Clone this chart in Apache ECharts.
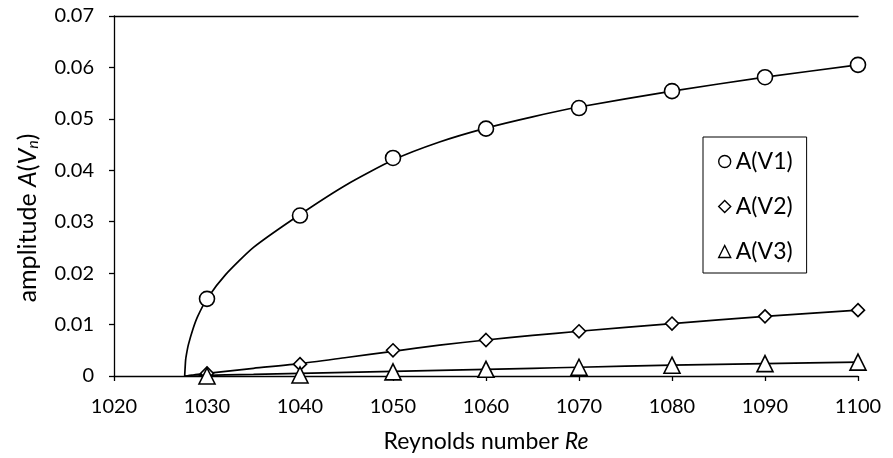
<!DOCTYPE html>
<html lang="en">
<head>
  <meta charset="UTF-8">
  <title>Amplitude vs Reynolds number</title>
</head>
<body style="margin:0;background:#fff;">
  <div id="chart" style="width: 893px; height: 458px;"></div>
</body>

<script src="https://cdn.jsdelivr.net/npm/echarts@6/dist/echarts.min.js"></script>

<script>
  // measured points
  const reValues = [1030, 1040, 1050, 1060, 1070, 1080, 1090, 1100];
  const ampV1 = [0.0150, 0.0312, 0.0424, 0.0481, 0.0521, 0.0554, 0.0581, 0.0605];
  const ampV2 = [0.0005, 0.0023, 0.0050, 0.0070, 0.0087, 0.0102, 0.0116, 0.0128];
  const ampV3 = [0.0000, 0.0002, 0.0008, 0.0013, 0.0017, 0.0021, 0.0024, 0.0027];

  // fitted curves
  const curveRe = [1027.6, 1027.7, 1027.8, 1028, 1028.5, 1029, 1030, 1032, 1035, 1040, 1045, 1050, 1055, 1060, 1065, 1070, 1080, 1090, 1100];
  const curveV1 = [0, 0.0031, 0.0043, 0.0061, 0.0092, 0.0116, 0.0150, 0.0197, 0.0250, 0.0314, 0.0372, 0.0420, 0.0455, 0.0482, 0.0504, 0.0523, 0.0554, 0.0581, 0.0605];
  const curveV2 = [0, 0, 0, 0.0001, 0.0002, 0.0003, 0.0005, 0.0009, 0.0015, 0.0024, 0.0036, 0.0048, 0.0060, 0.0070, 0.0079, 0.0087, 0.0102, 0.0116, 0.0128];
  const curveV3 = [0, 0, 0, 0, 0, 0, 0.0001, 0.0002, 0.0003, 0.0005, 0.0007, 0.0009, 0.0011, 0.0013, 0.0015, 0.0017, 0.0021, 0.0024, 0.0027];

  const seriesNames = ['A(V1)', 'A(V2)', 'A(V3)'];
  const symbols = ['circle', 'diamond', 'triangle'];
  const symbolSizes = [15, 13, 16];

  const font = 'Lato, "Open Sans", sans-serif';
  const pair = (xs, ys) => xs.map((x, i) => [x, ys[i]]);

  const myChart = echarts.init(document.getElementById('chart'));

  const pointData = [ampV1, ampV2, ampV3];
  const curveData = [curveV1, curveV2, curveV3];

  const series = [];
  curveData.forEach((c) => {
    series.push({
      type: 'line',
      data: pair(curveRe, c),
      showSymbol: false,
      smooth: 0.2,
      silent: true,
      lineStyle: { color: '#000', width: 1.7 },
      z: 2
    });
  });
  pointData.forEach((p, k) => {
    series.push({
      name: seriesNames[k],
      type: 'scatter',
      data: pair(reValues, p),
      symbol: symbols[k],
      symbolSize: symbolSizes[k],
      itemStyle: { color: '#fff', borderColor: '#000', borderWidth: 1.6, opacity: 1 },
      z: 5
    });
  });

  const option = {
    animation: false,
    backgroundColor: '#fff',
    grid: { left: 114, right: 35, top: 16, bottom: 80 },
    legend: {
      data: seriesNames,
      orient: 'vertical',
      left: 703,
      top: 137,
      padding: [13, 14, 10, 15],
      itemGap: 22,
      itemWidth: 12,
      itemHeight: 12,
      borderColor: '#000',
      borderWidth: 1,
      itemStyle: { color: '#fff', borderColor: '#000', borderWidth: 1.4, opacity: 1 },
      textStyle: { fontFamily: font, fontSize: 23, color: '#000' }
    },
    xAxis: [
      {
        type: 'value',
        min: 1020,
        max: 1100,
        interval: 10,
        name: '{n|Reynolds number }{i|Re}',
        nameLocation: 'middle',
        nameGap: 54,
        nameTextStyle: {
          rich: {
            n: { fontFamily: font, fontSize: 23, color: '#000' },
            i: { fontFamily: font, fontSize: 23, color: '#000', fontStyle: 'italic' }
          }
        },
        axisLine: { lineStyle: { color: '#000', width: 1.3 } },
        axisTick: { show: true, length: 5, lineStyle: { color: '#000', width: 1.3 } },
        axisLabel: {
          fontFamily: font,
          fontSize: 20,
          color: '#000',
          margin: 21,
          formatter: function (v) { return String(v); }
        },
        splitLine: { show: false }
      },
      {
        type: 'value',
        position: 'top',
        min: 1020,
        max: 1100,
        axisLine: { show: true, lineStyle: { color: '#000', width: 1.3 } },
        axisTick: { show: false },
        axisLabel: { show: false },
        splitLine: { show: false }
      }
    ],
    yAxis: {
      type: 'value',
      min: 0,
      max: 0.07,
      interval: 0.01,
      name: '{n|amplitude }{i|A}{n|(}{i|V}{s|n}{n|)}',
      nameLocation: 'middle',
      nameGap: 73,
      nameTextStyle: {
        padding: [0, 44, 0, 0],
        rich: {
          n: { fontFamily: font, fontSize: 25, color: '#000' },
          i: { fontFamily: font, fontSize: 25, color: '#000', fontStyle: 'italic' },
          s: { fontFamily: font, fontSize: 16, color: '#000', fontStyle: 'italic', verticalAlign: 'bottom', padding: [11, 0, 0, 0] }
        }
      },
      axisLine: { show: true, lineStyle: { color: '#000', width: 1.3 } },
      axisTick: { show: true, length: 5, lineStyle: { color: '#000', width: 1.3 } },
      axisLabel: {
        fontFamily: font,
        fontSize: 20,
        color: '#000',
        margin: 20,
        formatter: function (v) { return v === 0 ? '0' : v.toFixed(2); }
      },
      splitLine: { show: false }
    },
    series: series
  };

  myChart.setOption(option);
</script>

</html>
